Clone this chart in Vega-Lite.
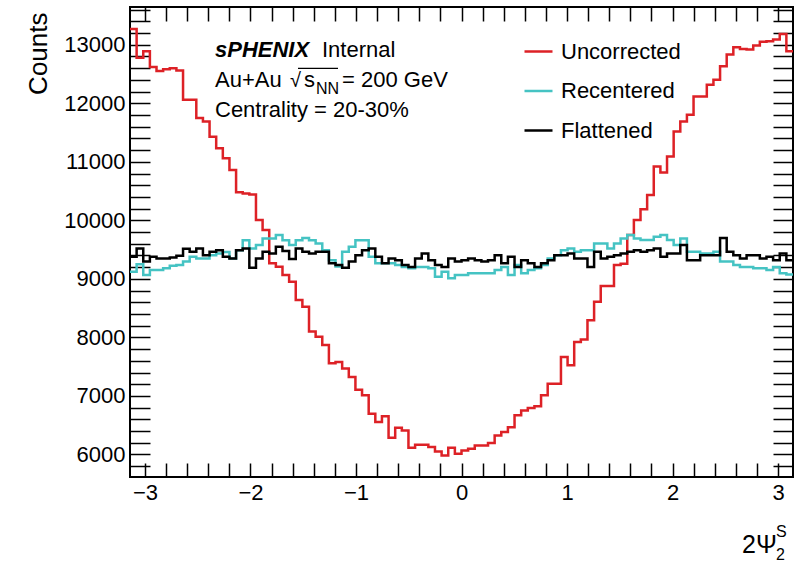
{
  "$schema": "https://vega.github.io/schema/vega-lite/v6.json",
  "width": 663,
  "height": 470,
  "autosize": "none",
  "padding": {"left": 130, "top": 7, "right": 15, "bottom": 85},
  "background": "white",
  "config": {
    "font": "Liberation Sans",
    "view": {"stroke": "#000", "strokeWidth": 2}
  },
  "datasets": {
    "hist": [
      {"x": -3.1416, "Uncorrected": 13270, "Recentered": 9120, "Flattened": 9380},
      {"x": -3.0788, "Uncorrected": 12780, "Recentered": 9250, "Flattened": 9520},
      {"x": -3.0159, "Uncorrected": 12890, "Recentered": 9065, "Flattened": 9295},
      {"x": -2.9531, "Uncorrected": 12620, "Recentered": 9150, "Flattened": 9380},
      {"x": -2.8903, "Uncorrected": 12550, "Recentered": 9150, "Flattened": 9350},
      {"x": -2.8274, "Uncorrected": 12580, "Recentered": 9180, "Flattened": 9350},
      {"x": -2.7646, "Uncorrected": 12600, "Recentered": 9225, "Flattened": 9365},
      {"x": -2.7018, "Uncorrected": 12560, "Recentered": 9235, "Flattened": 9395},
      {"x": -2.6389, "Uncorrected": 12060, "Recentered": 9295, "Flattened": 9515},
      {"x": -2.5761, "Uncorrected": 12060, "Recentered": 9380, "Flattened": 9465},
      {"x": -2.5133, "Uncorrected": 11750, "Recentered": 9350, "Flattened": 9520},
      {"x": -2.4504, "Uncorrected": 11690, "Recentered": 9350, "Flattened": 9405},
      {"x": -2.3876, "Uncorrected": 11430, "Recentered": 9405, "Flattened": 9465},
      {"x": -2.3248, "Uncorrected": 11230, "Recentered": 9435, "Flattened": 9490},
      {"x": -2.2619, "Uncorrected": 11060, "Recentered": 9460, "Flattened": 9380},
      {"x": -2.1991, "Uncorrected": 10860, "Recentered": 9350, "Flattened": 9350},
      {"x": -2.1363, "Uncorrected": 10480, "Recentered": 9490, "Flattened": 9490},
      {"x": -2.0735, "Uncorrected": 10460, "Recentered": 9660, "Flattened": 9520},
      {"x": -2.0106, "Uncorrected": 10440, "Recentered": 9520, "Flattened": 9190},
      {"x": -1.9478, "Uncorrected": 10007, "Recentered": 9580, "Flattened": 9350},
      {"x": -1.885, "Uncorrected": 9836, "Recentered": 9690, "Flattened": 9465},
      {"x": -1.8221, "Uncorrected": 9265, "Recentered": 9690, "Flattened": 9435},
      {"x": -1.7593, "Uncorrected": 9208, "Recentered": 9750, "Flattened": 9550},
      {"x": -1.6965, "Uncorrected": 9065, "Recentered": 9660, "Flattened": 9475},
      {"x": -1.6336, "Uncorrected": 8950, "Recentered": 9580, "Flattened": 9340},
      {"x": -1.5708, "Uncorrected": 8637, "Recentered": 9660, "Flattened": 9520},
      {"x": -1.508, "Uncorrected": 8522, "Recentered": 9700, "Flattened": 9465},
      {"x": -1.4451, "Uncorrected": 8100, "Recentered": 9660, "Flattened": 9435},
      {"x": -1.3823, "Uncorrected": 8010, "Recentered": 9605, "Flattened": 9465},
      {"x": -1.3195, "Uncorrected": 7870, "Recentered": 9490, "Flattened": 9465},
      {"x": -1.2566, "Uncorrected": 7560, "Recentered": 9320, "Flattened": 9265},
      {"x": -1.1938, "Uncorrected": 7580, "Recentered": 9210, "Flattened": 9235},
      {"x": -1.131, "Uncorrected": 7467, "Recentered": 9465, "Flattened": 9190},
      {"x": -1.0681, "Uncorrected": 7324, "Recentered": 9550, "Flattened": 9295},
      {"x": -1.0053, "Uncorrected": 7107, "Recentered": 9660, "Flattened": 9405},
      {"x": -0.9425, "Uncorrected": 7010, "Recentered": 9660, "Flattened": 9490},
      {"x": -0.8796, "Uncorrected": 6696, "Recentered": 9380, "Flattened": 9520},
      {"x": -0.8168, "Uncorrected": 6553, "Recentered": 9265, "Flattened": 9380},
      {"x": -0.754, "Uncorrected": 6651, "Recentered": 9265, "Flattened": 9265},
      {"x": -0.6912, "Uncorrected": 6285, "Recentered": 9265, "Flattened": 9350},
      {"x": -0.6283, "Uncorrected": 6456, "Recentered": 9235, "Flattened": 9320},
      {"x": -0.5655, "Uncorrected": 6411, "Recentered": 9205, "Flattened": 9235},
      {"x": -0.5027, "Uncorrected": 6114, "Recentered": 9180, "Flattened": 9205},
      {"x": -0.4398, "Uncorrected": 6165, "Recentered": 9205, "Flattened": 9350},
      {"x": -0.377, "Uncorrected": 6165, "Recentered": 9205, "Flattened": 9435},
      {"x": -0.3142, "Uncorrected": 6126, "Recentered": 9180, "Flattened": 9320},
      {"x": -0.2513, "Uncorrected": 6051, "Recentered": 9035, "Flattened": 9235},
      {"x": -0.1885, "Uncorrected": 5983, "Recentered": 9120, "Flattened": 9205},
      {"x": -0.1257, "Uncorrected": 6114, "Recentered": 9010, "Flattened": 9350},
      {"x": -0.0628, "Uncorrected": 6011, "Recentered": 9065, "Flattened": 9295},
      {"x": 0, "Uncorrected": 6068, "Recentered": 9065, "Flattened": 9320},
      {"x": 0.0628, "Uncorrected": 6097, "Recentered": 9095, "Flattened": 9350},
      {"x": 0.1257, "Uncorrected": 6154, "Recentered": 9095, "Flattened": 9320},
      {"x": 0.1885, "Uncorrected": 6154, "Recentered": 9095, "Flattened": 9295},
      {"x": 0.2513, "Uncorrected": 6194, "Recentered": 9095, "Flattened": 9320},
      {"x": 0.3142, "Uncorrected": 6325, "Recentered": 9150, "Flattened": 9405},
      {"x": 0.377, "Uncorrected": 6382, "Recentered": 9205, "Flattened": 9265},
      {"x": 0.4398, "Uncorrected": 6467, "Recentered": 9065, "Flattened": 9380},
      {"x": 0.5027, "Uncorrected": 6668, "Recentered": 9235, "Flattened": 9205},
      {"x": 0.5655, "Uncorrected": 6753, "Recentered": 9095, "Flattened": 9320},
      {"x": 0.6283, "Uncorrected": 6793, "Recentered": 9150, "Flattened": 9265},
      {"x": 0.6912, "Uncorrected": 6822, "Recentered": 9180, "Flattened": 9205},
      {"x": 0.754, "Uncorrected": 7010, "Recentered": 9235, "Flattened": 9265},
      {"x": 0.8168, "Uncorrected": 7210, "Recentered": 9350, "Flattened": 9320},
      {"x": 0.8796, "Uncorrected": 7210, "Recentered": 9405, "Flattened": 9405},
      {"x": 0.9425, "Uncorrected": 7666, "Recentered": 9490, "Flattened": 9405},
      {"x": 1.0053, "Uncorrected": 7524, "Recentered": 9520, "Flattened": 9435},
      {"x": 1.0681, "Uncorrected": 7923, "Recentered": 9465, "Flattened": 9350},
      {"x": 1.131, "Uncorrected": 7964, "Recentered": 9490, "Flattened": 9350},
      {"x": 1.1938, "Uncorrected": 8295, "Recentered": 9490, "Flattened": 9205},
      {"x": 1.2566, "Uncorrected": 8608, "Recentered": 9605, "Flattened": 9465},
      {"x": 1.3195, "Uncorrected": 8877, "Recentered": 9605, "Flattened": 9350},
      {"x": 1.3823, "Uncorrected": 8877, "Recentered": 9520, "Flattened": 9380},
      {"x": 1.4451, "Uncorrected": 9236, "Recentered": 9605, "Flattened": 9405},
      {"x": 1.508, "Uncorrected": 9260, "Recentered": 9690, "Flattened": 9435},
      {"x": 1.5708, "Uncorrected": 9750, "Recentered": 9750, "Flattened": 9465},
      {"x": 1.6336, "Uncorrected": 10007, "Recentered": 9690, "Flattened": 9490},
      {"x": 1.6965, "Uncorrected": 10190, "Recentered": 9665, "Flattened": 9465},
      {"x": 1.7593, "Uncorrected": 10435, "Recentered": 9665, "Flattened": 9490},
      {"x": 1.8221, "Uncorrected": 10920, "Recentered": 9720, "Flattened": 9520},
      {"x": 1.885, "Uncorrected": 10817, "Recentered": 9750, "Flattened": 9380},
      {"x": 1.9478, "Uncorrected": 11091, "Recentered": 9665, "Flattened": 9435},
      {"x": 2.0106, "Uncorrected": 11519, "Recentered": 9580, "Flattened": 9435},
      {"x": 2.0735, "Uncorrected": 11690, "Recentered": 9690, "Flattened": 9580},
      {"x": 2.1363, "Uncorrected": 11805, "Recentered": 9465, "Flattened": 9320},
      {"x": 2.1991, "Uncorrected": 12118, "Recentered": 9465, "Flattened": 9320},
      {"x": 2.2619, "Uncorrected": 12118, "Recentered": 9435, "Flattened": 9405},
      {"x": 2.3248, "Uncorrected": 12318, "Recentered": 9435, "Flattened": 9405},
      {"x": 2.3876, "Uncorrected": 12404, "Recentered": 9465, "Flattened": 9405},
      {"x": 2.4504, "Uncorrected": 12632, "Recentered": 9295, "Flattened": 9700},
      {"x": 2.5133, "Uncorrected": 12832, "Recentered": 9295, "Flattened": 9465},
      {"x": 2.5761, "Uncorrected": 12957, "Recentered": 9235, "Flattened": 9405},
      {"x": 2.6389, "Uncorrected": 12929, "Recentered": 9205, "Flattened": 9350},
      {"x": 2.7018, "Uncorrected": 12918, "Recentered": 9205, "Flattened": 9405},
      {"x": 2.7646, "Uncorrected": 12986, "Recentered": 9180, "Flattened": 9405},
      {"x": 2.8274, "Uncorrected": 13050, "Recentered": 9180, "Flattened": 9350},
      {"x": 2.8903, "Uncorrected": 13060, "Recentered": 9150, "Flattened": 9380},
      {"x": 2.9531, "Uncorrected": 13089, "Recentered": 9205, "Flattened": 9320},
      {"x": 3.0159, "Uncorrected": 13185, "Recentered": 9095, "Flattened": 9435},
      {"x": 3.0788, "Uncorrected": 12889, "Recentered": 9075, "Flattened": 9320},
      {"x": 3.1416, "Uncorrected": 12889, "Recentered": 9075, "Flattened": 9320}
    ]
  },
  "data": {"values": [{}]},
  "layer": [
    {
      "data": {"name": "hist"},
      "transform": [{"fold": ["Uncorrected", "Recentered", "Flattened"], "as": ["series", "counts"]}],
      "mark": {"type": "line", "interpolate": "step-after", "strokeWidth": 2.5, "clip": true},
      "encoding": {
        "x": {
          "field": "x", "type": "quantitative",
          "scale": {"domain": [-3.1416, 3.1416], "nice": false, "zero": false},
          "axis": {
            "orient": "bottom", "title": null, "domain": false, "grid": false,
            "values": [-3, -2.8, -2.6, -2.4, -2.2, -2, -1.8, -1.6, -1.4, -1.2, -1, -0.8, -0.6, -0.4, -0.2, 0, 0.2, 0.4, 0.6, 0.8, 1, 1.2, 1.4, 1.6, 1.8, 2, 2.2, 2.4, 2.6, 2.8, 3],
            "tickCount": 200,
            "labelExpr": "abs(datum.value - round(datum.value)) < 0.001 ? replace(format(round(datum.value), 'd'), '-', '\u2212') : ''",
            "labelFont": "Liberation Sans", "labelFontSize": 22, "labelColor": "#000",
            "labelPadding": 19, "labelOverlap": false, "labelFlush": false, "labelBound": false,
            "tickColor": "#000", "tickWidth": 1.5, "tickSize": -14,
            "encode": {"ticks": {"update": {"y2": {"signal": "abs(datum.value - round(datum.value)) < 0.001 ? -14 : -7"}}}}
          }
        },
        "y": {
          "field": "counts", "type": "quantitative",
          "scale": {"domain": [5615, 13645], "nice": false, "zero": false},
          "axis": {
            "orient": "left", "grid": false, "domain": false,
            "values": [5800, 6000, 6200, 6400, 6600, 6800, 7000, 7200, 7400, 7600, 7800, 8000, 8200, 8400, 8600, 8800, 9000, 9200, 9400, 9600, 9800, 10000, 10200, 10400, 10600, 10800, 11000, 11200, 11400, 11600, 11800, 12000, 12200, 12400, 12600, 12800, 13000, 13200, 13400, 13600],
            "tickCount": 200,
            "labelExpr": "datum.value % 1000 === 0 ? format(datum.value, 'd') : ''",
            "labelFont": "Liberation Sans", "labelFontSize": 22, "labelColor": "#000",
            "labelPadding": 25, "labelOverlap": false, "labelBound": false,
            "tickColor": "#000", "tickWidth": 1.5, "tickSize": -20,
            "encode": {"ticks": {"update": {"x2": {"signal": "datum.value % 1000 === 0 ? 20 : 10"}}}},
            "title": "Counts", "titleFont": "Liberation Sans", "titleFontSize": 26, "titleFontWeight": "normal", "titleColor": "#000",
            "titleAngle": -90, "titleAlign": "right", "titleBaseline": "alphabetic", "titleX": -84, "titleY": 5
          }
        },
        "color": {
          "field": "series", "type": "nominal",
          "scale": {"domain": ["Uncorrected", "Recentered", "Flattened"], "range": ["#dd2126", "#45c3c3", "#000000"]},
          "legend": {
            "orient": "none", "legendX": 393, "legendY": 29, "title": null,
            "symbolType": "stroke", "symbolSize": 784, "symbolStrokeWidth": 2.5,
            "labelFont": "Liberation Sans", "labelFontSize": 22, "labelColor": "#000",
            "labelOffset": 7, "rowPadding": 12.5, "padding": 0
          }
        }
      }
    },
    {
      "data": {"name": "hist"},
      "mark": {"type": "point", "opacity": 0},
      "encoding": {
        "x": {
          "field": "x", "type": "quantitative",
          "axis": {
            "orient": "top", "title": null, "domain": false, "grid": false, "labels": false,
            "values": [-3, -2.8, -2.6, -2.4, -2.2, -2, -1.8, -1.6, -1.4, -1.2, -1, -0.8, -0.6, -0.4, -0.2, 0, 0.2, 0.4, 0.6, 0.8, 1, 1.2, 1.4, 1.6, 1.8, 2, 2.2, 2.4, 2.6, 2.8, 3],
            "tickCount": 200,
            "tickColor": "#000", "tickWidth": 1.5, "tickSize": -14,
            "encode": {"ticks": {"update": {"y2": {"signal": "abs(datum.value - round(datum.value)) < 0.001 ? 14 : 7"}}}}
          }
        },
        "y": {
          "field": "Flattened", "type": "quantitative",
          "axis": {
            "orient": "right", "title": null, "domain": false, "grid": false, "labels": false,
            "values": [5800, 6000, 6200, 6400, 6600, 6800, 7000, 7200, 7400, 7600, 7800, 8000, 8200, 8400, 8600, 8800, 9000, 9200, 9400, 9600, 9800, 10000, 10200, 10400, 10600, 10800, 11000, 11200, 11400, 11600, 11800, 12000, 12200, 12400, 12600, 12800, 13000, 13200, 13400, 13600],
            "tickCount": 200,
            "tickColor": "#000", "tickWidth": 1.5, "tickSize": -20,
            "encode": {"ticks": {"update": {"x2": {"signal": "datum.value % 1000 === 0 ? -20 : -10"}}}}
          }
        }
      }
    },
    {
      "mark": {"type": "text", "text": "sPHENIX", "font": "Liberation Sans", "fontSize": 22, "fontStyle": "italic", "fontWeight": "bold", "align": "left", "baseline": "alphabetic", "color": "#000"},
      "encoding": {"x": {"datum": -2.3361, "type": "quantitative", "axis": null}, "y": {"datum": 12796, "type": "quantitative", "axis": null}}
    },
    {
      "mark": {"type": "text", "text": "Internal", "font": "Liberation Sans", "fontSize": 22, "align": "left", "baseline": "alphabetic", "color": "#000"},
      "encoding": {"x": {"datum": -1.322, "type": "quantitative", "axis": null}, "y": {"datum": 12796, "type": "quantitative", "axis": null}}
    },
    {
      "mark": {"type": "text", "text": "Au+Au", "font": "Liberation Sans", "fontSize": 22, "align": "left", "baseline": "alphabetic", "color": "#000"},
      "encoding": {"x": {"datum": -2.3361, "type": "quantitative", "axis": null}, "y": {"datum": 12273, "type": "quantitative", "axis": null}}
    },
    {
      "mark": {"type": "text", "text": "√", "font": "Liberation Sans", "fontSize": 20, "align": "left", "baseline": "alphabetic", "color": "#000"},
      "encoding": {"x": {"datum": -1.6253, "type": "quantitative", "axis": null}, "y": {"datum": 12273, "type": "quantitative", "axis": null}}
    },
    {
      "mark": {"type": "rule", "strokeWidth": 1.2, "color": "#000"},
      "encoding": {"x": {"datum": -1.5495, "type": "quantitative", "axis": null}, "x2": {"datum": -1.1704}, "y": {"datum": 12598, "type": "quantitative", "axis": null}}
    },
    {
      "mark": {"type": "text", "text": "s", "font": "Liberation Sans", "fontSize": 22, "align": "left", "baseline": "alphabetic", "color": "#000"},
      "encoding": {"x": {"datum": -1.4926, "type": "quantitative", "axis": null}, "y": {"datum": 12273, "type": "quantitative", "axis": null}}
    },
    {
      "mark": {"type": "text", "text": "NN", "font": "Liberation Sans", "fontSize": 16, "align": "left", "baseline": "alphabetic", "color": "#000"},
      "encoding": {"x": {"datum": -1.3789, "type": "quantitative", "axis": null}, "y": {"datum": 12153, "type": "quantitative", "axis": null}}
    },
    {
      "mark": {"type": "text", "text": "= 200 GeV", "font": "Liberation Sans", "fontSize": 22, "align": "left", "baseline": "alphabetic", "color": "#000"},
      "encoding": {"x": {"datum": -1.1325, "type": "quantitative", "axis": null}, "y": {"datum": 12273, "type": "quantitative", "axis": null}}
    },
    {
      "mark": {"type": "text", "text": "Centrality = 20-30%", "font": "Liberation Sans", "fontSize": 22, "align": "left", "baseline": "alphabetic", "color": "#000"},
      "encoding": {"x": {"datum": -2.3361, "type": "quantitative", "axis": null}, "y": {"datum": 11766, "type": "quantitative", "axis": null}}
    },
    {
      "mark": {"type": "text", "text": "2Ψ", "font": "Liberation Sans", "fontSize": 25, "align": "left", "baseline": "alphabetic", "color": "#000"},
      "encoding": {"x": {"datum": 2.6583, "type": "quantitative", "axis": null}, "y": {"datum": 4317, "type": "quantitative", "axis": null}}
    },
    {
      "mark": {"type": "text", "text": "S", "font": "Liberation Sans", "fontSize": 16, "align": "left", "baseline": "alphabetic", "color": "#000"},
      "encoding": {"x": {"datum": 2.9805, "type": "quantitative", "axis": null}, "y": {"datum": 4590, "type": "quantitative", "axis": null}}
    },
    {
      "mark": {"type": "text", "text": "2", "font": "Liberation Sans", "fontSize": 16, "align": "left", "baseline": "alphabetic", "color": "#000"},
      "encoding": {"x": {"datum": 2.9805, "type": "quantitative", "axis": null}, "y": {"datum": 4197, "type": "quantitative", "axis": null}}
    }
  ],
  "resolve": {"axis": {"x": "independent", "y": "independent"}}
}
